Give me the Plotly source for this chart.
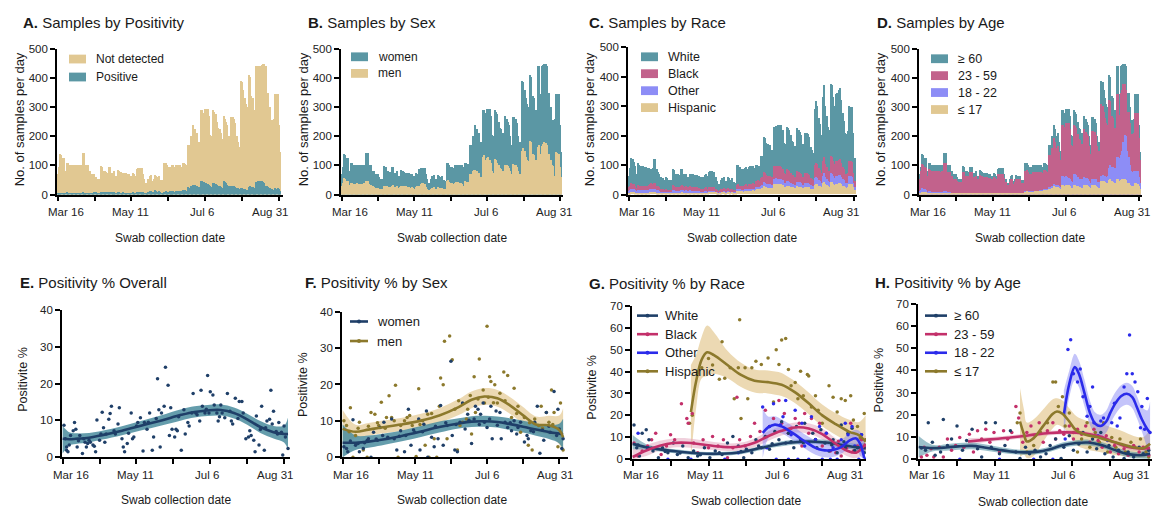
import plotly.graph_objects as go

# ---------------- data ----------------
TICK_DAYS = [0, 28, 56, 84, 112, 140, 168]          # Mar 16 + n*28 days
TICK_LABELS = ["Mar 16", "May 11", "Jul 6", "Aug 31"]

# daily samples, Mar 16 .. Sep 3 (day 0 = Mar 16)
total_samples = [
    70, 95, 140, 135, 125, 125, 80, 110, 108, 102,
    100, 100, 100, 100, 100, 100, 100, 100, 100, 143,
    143, 100, 100, 100, 80, 80, 70, 70, 70, 60,
    55, 55, 55, 97, 95, 80, 80, 78, 75, 95,
    95, 75, 75, 80, 65, 65, 85, 80, 78, 75,
    75, 75, 75, 70, 72, 65, 65, 75, 72, 65,
    88, 90, 90, 90, 90, 70, 55, 40, 40, 55,
    65, 68, 45, 55, 68, 65, 60, 65, 50, 50,
    45, 108, 110, 100, 95, 95, 90, 100, 100, 95,
    100, 100, 100, 100, 95, 110, 108, 105, 100, 170,
    170, 200, 200, 240, 225, 200, 210, 180, 150, 290,
    290, 280, 295, 295, 295, 270, 205, 200, 290, 285,
    275, 250, 230, 225, 210, 190, 270, 260, 250, 240,
    200, 170, 265, 265, 260, 245, 200, 180, 165, 390,
    385, 360, 330, 310, 300, 410, 405, 340, 330, 290,
    290, 440, 440, 345, 440, 445, 450, 450, 440, 350,
    350, 300, 255, 255, 260, 345, 345, 345, 240, 145]
positive_samples = [
    2, 3, 5, 4, 3, 5, 3, 8, 6, 5,
    6, 5, 4, 5, 6, 7, 5, 4, 6, 8,
    7, 5, 6, 5, 4, 6, 5, 7, 8, 9,
    6, 7, 6, 9, 10, 8, 9, 10, 8, 10,
    9, 8, 7, 9, 6, 7, 8, 9, 7, 6,
    8, 7, 6, 5, 7, 6, 5, 8, 7, 6,
    9, 10, 8, 9, 10, 8, 7, 5, 6, 9,
    12, 13, 9, 10, 14, 12, 10, 11, 8, 7,
    6, 10, 12, 10, 9, 11, 10, 12, 13, 10,
    12, 11, 13, 12, 11, 14, 15, 14, 12, 25,
    24, 28, 30, 33, 32, 28, 30, 26, 20, 48,
    45, 42, 38, 40, 36, 32, 28, 26, 38, 40,
    36, 34, 30, 28, 26, 24, 45, 42, 38, 34,
    28, 24, 30, 30, 29, 27, 24, 22, 20, 24,
    22, 20, 18, 17, 16, 25, 28, 26, 25, 24,
    22, 44, 45, 40, 46, 45, 44, 38, 30, 28,
    26, 24, 20, 18, 17, 22, 20, 22, 18, 12]
men_samples = [
    28, 38, 58, 52, 46, 45, 34, 40, 38, 36,
    35, 36, 38, 36, 35, 37, 36, 38, 40, 45,
    46, 36, 34, 32, 28, 27, 22, 22, 24, 20,
    18, 18, 20, 28, 30, 28, 26, 25, 24, 30,
    32, 26, 26, 28, 24, 25, 30, 28, 28, 26,
    28, 27, 26, 24, 25, 22, 20, 26, 28, 24,
    30, 36, 38, 40, 35, 26, 20, 14, 15, 20,
    24, 26, 17, 20, 26, 24, 22, 24, 20, 19,
    18, 48, 50, 42, 40, 38, 36, 40, 42, 40,
    42, 40, 38, 36, 30, 45, 44, 42, 40, 70,
    72, 82, 85, 84, 80, 72, 75, 60, 50, 130,
    135, 120, 125, 128, 118, 110, 80, 75, 122, 118,
    110, 100, 90, 88, 80, 70, 100, 102, 98, 92,
    80, 70, 105, 102, 100, 96, 80, 72, 68, 150,
    160, 150, 130, 120, 115, 185, 180, 140, 135, 120,
    118, 165, 170, 140, 168, 172, 180, 178, 170, 140,
    138, 120, 100, 98, 65, 145, 142, 140, 95, 60]
# race: cumulative counts (White+Black+Other+Hispanic, Black+Other+Hispanic, Other+Hispanic, Hispanic)
race_all = [
    62, 90, 125, 122, 110, 95, 70, 108, 100, 98,
    95, 95, 92, 92, 90, 90, 88, 88, 90, 122,
    120, 88, 75, 70, 60, 55, 55, 50, 58, 55,
    48, 50, 48, 85, 82, 70, 70, 68, 65, 85,
    85, 70, 68, 70, 60, 60, 70, 68, 68, 65,
    65, 65, 62, 62, 60, 58, 58, 65, 68, 62,
    75, 78, 78, 76, 76, 60, 45, 35, 35, 50,
    55, 58, 38, 45, 58, 55, 50, 55, 42, 42,
    38, 100, 100, 92, 88, 88, 85, 90, 92, 88,
    92, 95, 95, 95, 90, 100, 100, 98, 95, 130,
    130, 195, 190, 175, 170, 160, 168, 150, 130, 230,
    232, 228, 235, 235, 235, 220, 175, 170, 230, 225,
    220, 200, 180, 178, 165, 160, 225, 220, 212, 200,
    170, 150, 210, 210, 205, 195, 160, 150, 140, 290,
    318, 300, 260, 240, 200, 330, 370, 300, 265, 230,
    220, 375, 370, 330, 300, 340, 345, 355, 360, 320,
    275, 250, 210, 205, 215, 300, 298, 295, 210, 125]
race_black_other_hisp = [
    25, 30, 38, 36, 34, 30, 22, 32, 30, 28,
    28, 30, 30, 28, 30, 32, 35, 38, 35, 40,
    38, 30, 28, 25, 20, 18, 18, 16, 18, 15,
    14, 15, 16, 32, 30, 26, 25, 26, 24, 30,
    32, 28, 26, 28, 24, 24, 28, 26, 26, 24,
    24, 26, 22, 22, 20, 20, 18, 22, 24, 20,
    24, 26, 26, 24, 25, 20, 16, 12, 14, 18,
    20, 22, 14, 18, 22, 20, 18, 20, 16, 16,
    14, 32, 34, 30, 30, 28, 28, 32, 34, 30,
    34, 36, 36, 38, 36, 45, 46, 48, 46, 55,
    58, 75, 72, 65, 62, 60, 62, 58, 50, 95,
    98, 92, 95, 96, 94, 88, 72, 70, 85, 82,
    80, 72, 65, 65, 60, 58, 78, 76, 74, 70,
    60, 54, 72, 72, 70, 66, 56, 52, 50, 100,
    108, 102, 90, 82, 72, 115, 128, 105, 92, 80,
    78, 130, 128, 112, 102, 115, 112, 118, 120, 108,
    92, 85, 70, 68, 72, 115, 112, 110, 72, 45]
race_other_hisp = [
    12, 15, 20, 18, 17, 15, 11, 16, 15, 14,
    14, 15, 15, 14, 15, 16, 17, 18, 17, 20,
    19, 15, 14, 12, 10, 9, 9, 8, 9, 8,
    7, 8, 8, 16, 15, 13, 13, 13, 12, 15,
    16, 14, 13, 14, 12, 12, 14, 13, 13, 12,
    12, 13, 11, 11, 10, 10, 9, 11, 12, 10,
    12, 13, 13, 12, 13, 10, 8, 6, 7, 9,
    10, 11, 7, 9, 11, 10, 9, 10, 8, 8,
    7, 18, 19, 17, 16, 16, 15, 17, 18, 17,
    18, 19, 19, 20, 19, 24, 25, 26, 25, 30,
    32, 42, 40, 36, 34, 33, 34, 32, 28, 52,
    55, 50, 52, 53, 52, 48, 40, 38, 46, 45,
    44, 40, 36, 36, 33, 32, 43, 42, 41, 38,
    33, 30, 40, 40, 39, 36, 31, 29, 28, 55,
    60, 56, 50, 45, 40, 64, 72, 58, 52, 45,
    44, 72, 70, 62, 56, 64, 62, 66, 66, 60,
    52, 48, 40, 38, 40, 64, 62, 60, 40, 25]
race_hisp = [
    5, 6, 8, 8, 7, 6, 4, 6, 6, 5,
    5, 6, 6, 5, 6, 6, 7, 7, 7, 8,
    8, 6, 6, 5, 4, 4, 4, 3, 4, 3,
    3, 3, 3, 6, 6, 5, 5, 5, 5, 6,
    7, 6, 6, 6, 5, 5, 6, 6, 6, 5,
    5, 6, 5, 5, 5, 5, 4, 6, 6, 5,
    8, 8, 8, 8, 8, 7, 5, 4, 4, 6,
    7, 7, 5, 6, 8, 7, 6, 7, 6, 6,
    5, 12, 13, 12, 11, 11, 10, 12, 12, 11,
    12, 13, 13, 14, 13, 16, 17, 17, 17, 20,
    22, 28, 27, 24, 22, 22, 23, 21, 18, 34,
    36, 33, 34, 35, 34, 32, 26, 25, 30, 29,
    28, 26, 24, 24, 22, 21, 28, 27, 26, 25,
    22, 20, 26, 26, 26, 24, 20, 19, 18, 32,
    36, 34, 30, 28, 25, 38, 42, 35, 32, 28,
    27, 42, 41, 36, 33, 37, 36, 38, 38, 35,
    30, 28, 24, 22, 24, 36, 35, 34, 24, 14]
# age: cumulative counts (all ages = total_samples, <60, <23, <=17)
age_u60 = [
    55, 80, 105, 100, 95, 92, 62, 88, 85, 82,
    80, 82, 80, 80, 80, 80, 78, 80, 80, 110,
    110, 78, 78, 78, 62, 62, 55, 55, 55, 48,
    44, 44, 44, 78, 76, 64, 64, 62, 60, 76,
    76, 60, 60, 64, 52, 52, 68, 64, 62, 60,
    60, 60, 60, 56, 58, 52, 52, 60, 58, 52,
    70, 72, 72, 72, 72, 56, 44, 32, 32, 44,
    52, 54, 36, 44, 54, 52, 48, 52, 40, 40,
    36, 82, 84, 76, 72, 72, 68, 76, 76, 72,
    78, 78, 78, 78, 74, 86, 84, 82, 78, 135,
    135, 160, 160, 195, 180, 160, 168, 145, 120, 240,
    240, 232, 245, 245, 245, 224, 170, 166, 240, 236,
    228, 208, 190, 186, 174, 158, 224, 216, 208, 200,
    166, 140, 220, 220, 216, 204, 166, 150, 137, 310,
    305, 285, 262, 246, 238, 325, 320, 270, 262, 230,
    230, 345, 345, 272, 350, 360, 380, 380, 360, 285,
    285, 245, 208, 208, 210, 280, 280, 280, 195, 118]
age_u23 = [
    12, 16, 22, 20, 18, 16, 10, 12, 11, 10,
    9, 9, 9, 9, 9, 9, 9, 9, 9, 12,
    12, 8, 8, 8, 6, 6, 5, 5, 5, 4,
    4, 4, 4, 7, 7, 6, 6, 6, 5, 7,
    7, 5, 5, 6, 5, 5, 6, 6, 6, 5,
    5, 5, 5, 5, 5, 4, 4, 5, 5, 4,
    6, 6, 6, 6, 6, 5, 4, 3, 3, 4,
    5, 5, 4, 5, 6, 5, 5, 5, 4, 4,
    4, 12, 12, 11, 11, 11, 10, 12, 12, 11,
    13, 13, 14, 15, 14, 18, 18, 18, 18, 25,
    26, 30, 30, 36, 34, 32, 34, 30, 26, 62,
    64, 60, 62, 60, 58, 55, 45, 44, 70, 72,
    66, 60, 55, 55, 52, 48, 60, 58, 56, 54,
    46, 40, 55, 55, 55, 52, 44, 42, 40, 62,
    66, 64, 62, 60, 62, 92, 100, 96, 95, 90,
    92, 128, 130, 125, 135, 150, 180, 205, 200, 150,
    130, 100, 80, 78, 80, 82, 80, 80, 60, 40]
age_u18 = [
    5, 7, 10, 9, 8, 8, 5, 6, 6, 5,
    5, 5, 5, 5, 5, 5, 5, 5, 5, 7,
    7, 5, 5, 5, 4, 4, 3, 3, 3, 3,
    3, 3, 3, 4, 4, 4, 4, 4, 3, 4,
    4, 3, 3, 4, 3, 3, 4, 4, 4, 3,
    3, 3, 3, 3, 3, 3, 3, 3, 3, 3,
    4, 4, 4, 4, 4, 3, 3, 2, 2, 3,
    4, 4, 3, 4, 5, 4, 4, 4, 3, 3,
    3, 10, 11, 10, 10, 10, 9, 10, 11, 10,
    12, 12, 12, 13, 12, 15, 15, 15, 15, 18,
    20, 24, 24, 28, 26, 25, 26, 23, 20, 32,
    34, 30, 32, 33, 32, 30, 24, 23, 32, 32,
    31, 28, 26, 26, 24, 22, 34, 33, 32, 30,
    26, 22, 34, 34, 33, 31, 26, 24, 22, 48,
    48, 46, 42, 40, 38, 50, 52, 46, 44, 38,
    38, 55, 54, 46, 50, 52, 54, 52, 50, 40,
    38, 34, 28, 28, 30, 38, 38, 36, 28, 18]
DAYS = list(range(len(total_samples)))

# ---- positivity % (daily points: (day, %)) ----
E_points = [(1, 8.7), (2, 5.0), (3, 2.8), (3, 1.9), (4, 1.5), (5, 3.3), (6, 5.9), (8, 7.2), (9, 9.4), (10, 7.6),
            (11, 2.8), (12, 4.5), (13, 5.9), (15, 1.0), (16, 5.0), (17, 4.1), (18, 2.8), (19, 3.7), (20, 4.6), (21, 4.1),
            (23, 3.3), (24, 3.0), (25, 1.5), (26, 10.1), (28, 4.6), (29, 6.3), (30, 12.2), (31, 8.0), (32, 4.1), (33, 6.3),
            (35, 10.3), (36, 11.9), (37, 13.8), (39, 7.2), (40, 6.3), (42, 9.0), (43, 13.4), (45, 5.0), (46, 2.8), (47, 1.5),
            (49, 3.7), (50, 6.5), (52, 12.0), (53, 5.0), (54, 5.5), (56, 8.5), (57, 9.4), (59, 10.7), (61, 1.7), (62, 9.4),
            (64, 7.6), (65, 9.5), (66, 12.0), (68, 1.9), (69, 5.5), (71, 10.5), (72, 21.3), (73, 12.9), (74, 2.8), (75, 12.0),
            (77, 13.8), (78, 24.4), (80, 19.5), (81, 5.9), (82, 13.4), (83, 7.6), (85, 5.5), (86, 7.6), (87, 7.2), (88, 11.0),
            (90, 1.9), (92, 12.9), (93, 6.3), (95, 9.4), (96, 8.5), (98, 12.0), (99, 17.3), (101, 12.0), (102, 11.5), (104, 9.8),
            (105, 18.2), (106, 13.8), (108, 12.0), (109, 13.0), (110, 22.2), (111, 12.0), (112, 17.8), (114, 16.9), (115, 14.2), (117, 12.0),
            (118, 9.8), (119, 11.0), (120, 14.2), (121, 12.0), (123, 10.7), (125, 17.3), (127, 12.5), (128, 9.8), (129, 9.0), (131, 16.0),
            (133, 10.5), (134, 15.1), (136, 15.1), (137, 12.0), (139, 5.0), (141, 5.5), (142, 7.2), (143, 5.9), (145, 4.6), (146, 1.5),
            (147, 11.2), (149, 3.3), (150, 7.5), (151, 13.8), (153, 1.9), (154, 8.0), (155, 9.8), (157, 10.3), (158, 18.2), (159, 9.0),
            (160, 12.5), (162, 7.0), (163, 6.3), (164, 9.4), (166, 6.8), (167, 0.6), (168, 8.5), (169, 5.5), (171, 2.4)]
F_women_points = [(1, 2.9), (3, 2.4), (4, 1.5), (6, 4.5), (8, 10.3), (10, 3.3), (12, 3.8), (13, 1.5), (16, 2.4), (17, 4.0),
                  (19, 4.6), (20, 5.1), (22, 0), (24, 6.9), (26, 5.0), (27, 4.7), (29, 8.2), (31, 6.0), (32, 9.6), (35, 5.5),
                  (38, 10.5), (40, 5.1), (42, 2.0), (44, 5.8), (45, 7.3), (48, 1.5), (49, 6.0), (51, 13.2), (53, 3.3), (55, 7.5),
                  (56, 6.9), (59, 10.5), (60, 2.0), (62, 7.0), (63, 9.1), (65, 12.7), (66, 0), (69, 5.5), (71, 2.9), (72, 8.5),
                  (74, 5.1), (76, 14.2), (78, 3.3), (80, 9.5), (81, 8.7), (84, 26.4), (85, 6.0), (87, 2.0), (88, 9.0), (89, 1.5),
                  (91, 9.6), (93, 14.9), (95, 7.8), (97, 11.8), (98, 10.2), (100, 3.8), (102, 10.5), (103, 14.0), (105, 13.2), (106, 9.0),
                  (107, 11.8), (109, 14.9), (110, 9.6), (112, 8.2), (114, 10.5), (115, 14.0), (116, 5.1), (119, 12.7), (120, 8.8), (122, 12.3),
                  (123, 5.1), (126, 9.6), (128, 8.2), (130, 9.5), (131, 7.3), (133, 10.0), (135, 6.4), (136, 8.2), (138, 9.6), (141, 4.2),
                  (143, 6.0), (144, 5.1), (146, 7.3), (148, 7.0), (149, 9.6), (151, 14.0), (153, 1.1), (155, 7.5), (156, 4.7), (158, 12.3),
                  (160, 8.5), (161, 6.9), (164, 18.1), (166, 6.0), (167, 13.2), (168, 7.8), (170, 2.4), (171, 5.1)]
F_men_points = [(1, 10.0), (3, 8.7), (5, 7.0), (6, 13.6), (8, 0), (10, 6.0), (12, 8.0), (13, 9.6), (16, 2.0), (19, 0),
                (20, 8.5), (22, 12.3), (25, 11.8), (27, 9.5), (28, 8.7), (30, 15.1), (33, 8.0), (34, 10.9), (36, 16.9), (38, 10.9),
                (40, 10.0), (41, 19.8), (43, 0), (45, 8.7), (48, 10.0), (50, 10.9), (52, 11.5), (54, 8.7), (57, 0.2), (59, 18.8),
                (60, 9.0), (62, 10.0), (64, 3.3), (66, 11.8), (67, 0), (69, 12.0), (71, 5.1), (73, 0), (75, 14.0), (76, 21.8),
                (78, 19.9), (79, 31.9), (81, 5.1), (83, 33.3), (85, 26.8), (87, 13.2), (89, 2.0), (90, 15.5), (91, 8.7), (93, 9.6),
                (96, 10.5), (97, 13.2), (99, 17.0), (100, 6.4), (102, 22.1), (103, 12.3), (105, 16.0), (106, 27.0), (109, 18.5), (110, 14.9),
                (112, 36.0), (113, 16.5), (114, 22.1), (115, 20.8), (117, 15.0), (118, 19.9), (120, 14.9), (122, 17.6), (125, 23.4), (126, 15.5),
                (128, 22.5), (131, 10.9), (133, 19.0), (135, 12.0), (136, 14.0), (138, 6.9), (141, 10.9), (144, 3.3), (145, 9.5), (147, 2.0),
                (149, 10.5), (152, 8.7), (154, 14.0), (155, 8.0), (158, 12.3), (160, 9.6), (162, 18.5), (163, 9.0), (164, 12.3), (167, 2.9),
                (169, 14.9), (171, 2.0)]
G_white_points = [(1, 15.6), (3, 5.2), (4, 6.5), (5, 1.5), (7, 11.9), (10, 13.4), (12, 8.9), (14, 5.0), (15, 3.7), (19, 0.7),
                  (22, 5.2), (24, 3.5), (26, 3.0), (30, 7.4), (33, 2.2), (35, 2.8), (37, 6.0), (41, 0.7), (45, 3.7), (48, 1.5),
                  (50, 2.0), (53, 5.2), (57, 0.7), (61, 3.7), (64, 3.0), (66, 2.2), (70, 7.4), (74, 10.4), (78, 6.0), (80, 3.5),
                  (82, 0.7), (84, 4.5), (88, 3.0), (91, 8.9), (93, 6.0), (95, 5.2), (98, 10.4), (101, 4.5), (103, 7.0), (105, 12.7),
                  (108, 8.9), (110, 17.1), (113, 7.4), (115, 11.9), (117, 8.0), (119, 5.2), (121, 14.9), (124, 8.9), (126, 7.5), (127, 16.4),
                  (130, 7.4), (133, 11.9), (135, 9.0), (136, 5.2), (139, 13.4), (142, 7.4), (145, 3.7), (147, 6.5), (148, 8.9), (151, 3.0),
                  (154, 15.6), (156, 8.0), (157, 5.2), (159, 11.9), (162, 14.1), (164, 4.0), (166, 5.2), (169, 11.2), (171, 3.0)]
G_black_points = [(1, 7.4), (4, 1.5), (7, 3.7), (11, 6.0), (14, 8.9), (17, 11.9), (21, 2.2), (25, 6.0), (28, 11.2), (31, 8.9),
                  (36, 25.3), (40, 18.6), (41, 16.4), (44, 20.9), (45, 7.4), (48, 3.0), (52, 8.9), (56, 5.2), (59, 10.4), (63, 6.0),
                  (67, 8.9), (70, 0.7), (74, 5.2), (77, 28.3), (79, 8.9), (83, 6.0), (87, 10.4), (90, 16.4), (94, 12.7), (98, 22.3),
                  (101, 14.9), (104, 18.6), (108, 26.8), (110, 16.4), (112, 20.9), (115, 11.9), (117, 14.1), (120, 18.6), (123, 16.4), (125, 6.0),
                  (127, 20.9), (130, 11.9), (132, 18.6), (135, 8.9), (138, 16.4), (140, 6.0), (143, 11.9), (146, 3.7), (150, 3.0), (152, 8.2),
                  (154, 1.5), (158, 5.2), (161, 16.4), (163, 3.7), (166, 6.0), (169, 8.9), (172, 5.2)]
G_other_points = [(4, 11.9), (11, 5.2), (26, 0), (43, 0), (68, 0), (78, 3.0), (96, 23.8), (99, 5.2), (101, 14.9), (104, 25.3),
                  (106, 0), (109, 15.6), (111, 19.4), (113, 26.8), (115, 0), (117, 11.2), (120, 22.3), (122, 0), (125, 16.4), (127, 6.0),
                  (130, 0), (132, 19.4), (135, 8.9), (138, 14.9), (140, 0), (143, 11.9), (146, 0), (148, 5.2), (151, 0), (154, 8.9),
                  (157, 16.4), (159, 11.2), (162, 14.9), (164, 6.0), (167, 0), (169, 11.2), (172, 0)]
G_hisp_points = [(42, 16.4), (44, 20.1), (51, 41.7), (56, 46.0), (59, 43.0), (64, 36.5), (66, 53.6), (68, 37.0), (72, 41.7), (75, 27.6),
                 (78, 41.7), (79, 63.7), (80, 18.6), (83, 41.7), (85, 27.6), (88, 41.7), (91, 44.7), (95, 43.2), (100, 46.2), (104, 26.1),
                 (106, 50.0), (108, 43.2), (110, 54.4), (113, 55.1), (115, 41.0), (117, 33.5), (120, 35.0), (122, 27.6), (124, 40.2), (126, 29.0),
                 (129, 38.7), (130, 38.0), (132, 23.8), (135, 29.0), (137, 22.3), (140, 16.4), (145, 33.5), (148, 28.3), (151, 21.6), (154, 27.6),
                 (157, 26.8), (161, 29.0), (163, 17.9), (166, 14.9), (168, 9.7), (171, 20.9), (172, 8.9)]
H_60_points = [(2, 5.0), (5, 4.0), (7, 16.4), (10, 7.6), (12, 1.8), (16, 3.2), (18, 17.9), (21, 6.2), (24, 9.1), (28, 15.0),
               (32, 4.0), (35, 8.4), (39, 13.5), (43, 4.7), (46, 1.0), (49, 16.4), (53, 5.4), (56, 16.4), (59, 2.5), (63, 6.2),
               (67, 12.8), (71, 3.2), (74, 0.3), (78, 5.4), (81, 2.5), (85, 4.0), (89, 1.0), (93, 2.5), (96, 6.2), (100, 9.1),
               (104, 0.3), (106, 5.4), (110, 10.6), (113, 4.0), (117, 6.9), (120, 12.0), (123, 3.2), (127, 9.1), (130, 4.7), (133, 12.0),
               (136, 2.5), (139, 6.2), (142, 1.0), (146, 4.0), (150, 0.3), (153, 3.2), (157, 1.0), (161, 5.4), (164, 2.5), (168, 4.0)]
H_23_points = [(2, 1.0), (4, 5.4), (6, 1.8), (9, 4.7), (11, 1.0), (15, 5.4), (18, 1.0), (21, 9.1), (24, 4.0), (27, 6.2),
               (30, 9.8), (33, 5.4), (37, 11.3), (40, 3.2), (43, 12.8), (46, 9.1), (49, 13.5), (52, 7.6), (55, 12.0), (59, 3.2),
               (62, 12.8), (65, 9.1), (68, 12.0), (71, 23.8), (73, 18.6), (76, 7.6), (79, 12.0), (82, 15.0), (85, 10.6), (88, 16.4),
               (91, 7.6), (94, 12.8), (98, 16.4), (100, 9.1), (103, 12.8), (106, 11.3), (110, 15.0), (113, 9.1), (116, 13.5), (119, 11.3),
               (122, 15.0), (125, 7.6), (128, 13.5), (131, 8.4), (134, 5.4), (137, 10.6), (140, 3.2), (143, 6.2), (146, 2.5), (150, 4.7),
               (153, 1.8), (157, 6.2), (161, 3.2), (164, 5.4), (168, 1.8)]
H_18_points = [(30, 0), (59, 0), (84, 0), (98, 0), (107, 9.1), (109, 49.5), (111, 53.9), (113, 38.5), (116, 34.8), (118, 40.7),
               (120, 28.2), (123, 19.4), (125, 23.8), (127, 32.6), (128, 16.4), (131, 10.6), (133, 17.2), (135, 18.6), (138, 8.4), (141, 16.4),
               (143, 25.2), (145, 15.0), (147, 18.6), (150, 32.6), (152, 38.5), (154, 56.0), (156, 38.5), (158, 34.8), (160, 30.4), (162, 14.2),
               (163, 23.8), (165, 13.5), (167, 27.4), (169, 12.0)]
H_17_points = [(72, 16.4), (74, 20.8), (79, 3.2), (84, 6.2), (89, 12.0), (94, 16.4), (98, 34.8), (100, 34.8), (102, 23.8), (105, 28.2),
               (107, 15.0), (110, 20.8), (113, 12.0), (116, 3.2), (119, 9.1), (123, 16.4), (125, 5.4), (129, 12.0), (132, 7.6), (135, 16.4),
               (138, 3.2), (141, 9.8), (144, 5.4), (147, 9.1), (151, 3.2), (155, 7.6), (158, 5.4), (162, 9.1), (166, 3.2), (168, 1.0)]

# ---- smoothed trends with confidence bands (day, fit, lower, upper) ----
E_fit_days = [0, 5, 10, 20, 30, 45, 60, 75, 90, 100, 110, 120, 130, 140, 150, 160, 168, 171]
E_fit = [5.0, 4.9, 5.0, 5.3, 6.0, 7.2, 8.6, 10.0, 11.5, 12.3, 12.7, 12.8, 12.0, 10.3, 8.2, 6.8, 6.3, 6.3]
E_lo = [1.0, 3.2, 3.6, 4.0, 4.8, 6.0, 7.3, 8.6, 10.0, 10.8, 11.2, 11.3, 10.5, 8.8, 6.6, 5.1, 4.0, 2.0]
E_hi = [8.5, 6.8, 6.5, 6.6, 7.2, 8.4, 9.9, 11.4, 13.0, 13.8, 14.2, 14.3, 13.5, 11.8, 9.8, 8.5, 8.6, 10.8]

F_days = [0, 10, 20, 30, 45, 60, 75, 90, 100, 110, 120, 130, 140, 150, 160, 168, 171]
F_women_fit = [4.0, 4.0, 4.3, 4.8, 5.8, 7.0, 8.3, 9.3, 9.8, 9.9, 9.7, 9.1, 8.4, 7.6, 6.9, 6.5, 6.3]
F_women_lo = [0.0, 2.0, 2.6, 3.2, 4.3, 5.5, 6.8, 7.9, 8.3, 8.4, 8.2, 7.5, 6.8, 5.9, 5.0, 3.8, 2.0]
F_women_hi = [9.0, 6.0, 6.0, 6.4, 7.3, 8.5, 9.8, 10.7, 11.3, 11.4, 11.2, 10.7, 10.0, 9.3, 8.8, 9.2, 10.6]
F_men_fit = [7.8, 7.0, 7.6, 8.2, 9.0, 10.0, 11.5, 13.8, 15.8, 16.7, 16.2, 14.2, 11.5, 9.0, 8.8, 7.5, 5.5]
F_men_lo = [4.0, 5.3, 5.9, 6.5, 7.2, 8.1, 9.5, 11.6, 13.5, 14.4, 13.9, 11.9, 9.2, 6.8, 6.2, 3.5, 1.0]
F_men_hi = [13.0, 8.9, 9.4, 10.0, 10.8, 11.9, 13.5, 16.0, 18.1, 19.0, 18.5, 16.5, 13.8, 11.2, 11.4, 11.5, 13.5]

G_white_days = [0, 10, 20, 35, 50, 65, 80, 95, 105, 115, 125, 135, 145, 155, 165, 172]
G_white_fit = [7.0, 5.5, 4.5, 3.4, 2.6, 2.5, 3.2, 5.2, 6.5, 7.5, 8.0, 8.0, 7.5, 6.5, 5.5, 5.0]
G_white_lo = [4.5, 4.3, 3.5, 2.5, 1.8, 1.7, 2.3, 4.2, 5.5, 6.4, 6.9, 6.9, 6.3, 5.2, 4.0, 2.5]
G_white_hi = [11.0, 6.8, 5.5, 4.3, 3.4, 3.3, 4.1, 6.2, 7.5, 8.6, 9.1, 9.1, 8.7, 7.8, 7.0, 7.5]
G_black_days = [0, 10, 20, 30, 40, 50, 60, 70, 80, 90, 100, 110, 120, 130, 140, 150, 158, 165, 172]
G_black_fit = [1.0, 4.0, 6.2, 7.4, 7.5, 6.8, 6.0, 5.5, 5.8, 7.5, 10.5, 13.0, 14.5, 14.0, 11.5, 7.0, 4.0, 3.0, 7.0]
G_black_lo = [0.0, 1.5, 4.0, 5.3, 5.4, 4.8, 4.2, 3.8, 4.0, 5.5, 8.3, 10.8, 12.2, 11.6, 9.0, 4.5, 1.5, 0.5, 3.0]
G_black_hi = [4.5, 6.5, 8.4, 9.5, 9.6, 8.8, 7.8, 7.2, 7.6, 9.5, 12.7, 15.2, 16.8, 16.4, 14.0, 9.5, 6.5, 5.5, 11.0]
G_other_days = [96, 100, 105, 110, 115, 120, 125, 130, 135, 140, 145, 150, 155, 160, 165, 168, 171]
G_other_fit = [12.0, 14.5, 15.8, 15.0, 13.2, 11.2, 9.0, 7.0, 5.2, 4.2, 4.0, 4.5, 6.0, 8.5, 9.5, 7.0, 0.5]
G_other_lo = [0.5, 9.5, 12.0, 11.8, 10.0, 8.0, 5.8, 3.8, 2.0, 1.0, 0.8, 1.3, 2.8, 5.0, 5.5, 1.5, 0.0]
G_other_hi = [23.5, 19.5, 19.6, 18.2, 16.4, 14.4, 12.2, 10.2, 8.4, 7.4, 7.2, 7.7, 9.2, 12.0, 13.5, 12.5, 8.0]
G_hisp_days = [43, 47, 51, 55, 60, 70, 80, 90, 100, 110, 115, 120, 130, 140, 150, 160, 167, 172]
G_hisp_fit = [21.5, 36.0, 45.5, 48.8, 47.5, 43.0, 38.5, 35.8, 35.2, 34.0, 32.5, 30.5, 25.5, 20.0, 16.0, 12.5, 11.0, 8.0]
G_hisp_lo = [0.0, 24.0, 37.0, 38.0, 39.0, 37.0, 33.0, 30.5, 30.0, 28.8, 27.5, 25.5, 20.5, 15.0, 11.0, 7.5, 5.5, 3.0]
G_hisp_hi = [43.0, 48.0, 56.0, 61.0, 58.0, 49.5, 44.0, 41.0, 40.5, 39.4, 37.5, 35.5, 30.5, 25.0, 21.0, 18.0, 17.0, 20.0]

H_60_days = [0, 10, 20, 29, 39, 48, 58, 67, 77, 86, 96, 105, 115, 124, 134, 143, 153, 162, 169]
H_60_fit = [5.5, 5.0, 5.3, 5.8, 6.0, 5.3, 4.3, 3.5, 3.1, 3.3, 4.5, 6.3, 7.3, 7.5, 6.3, 4.2, 2.3, 1.8, 2.5]
H_60_lo = [0.8, 3.5, 3.8, 4.3, 4.5, 3.9, 3.0, 2.3, 2.0, 2.2, 3.4, 5.1, 6.1, 6.2, 5.0, 2.8, 0.9, 0.3, 0.2]
H_60_hi = [10.5, 6.5, 6.8, 7.3, 7.5, 6.7, 5.6, 4.7, 4.2, 4.4, 5.6, 7.5, 8.5, 8.8, 7.6, 5.6, 3.7, 3.3, 5.0]
H_23_days = [36, 48, 58, 67, 77, 86, 96, 105, 115, 124, 134, 143, 153, 162, 169]
H_23_fit = [8.0, 8.7, 9.2, 9.8, 10.5, 11.2, 11.8, 12.1, 12.0, 11.4, 10.0, 7.6, 5.5, 4.8, 5.0]
H_23_lo = [6.5, 7.6, 8.2, 8.8, 9.5, 10.2, 10.8, 11.1, 11.0, 10.4, 9.0, 6.5, 4.3, 3.5, 3.0]
H_23_hi = [9.5, 9.8, 10.2, 10.8, 11.5, 12.2, 12.8, 13.1, 13.0, 12.4, 11.0, 8.7, 6.7, 6.1, 7.0]
H_18_days = [106, 110, 114, 117, 121, 125, 129, 133, 137, 140, 144, 148, 152, 156, 159, 163, 167, 169]
H_18_fit = [20.0, 34.0, 41.5, 38.5, 30.0, 21.0, 16.0, 15.0, 17.0, 21.0, 25.5, 28.5, 29.5, 28.0, 24.0, 18.0, 13.5, 12.0]
H_18_lo = [10.0, 28.0, 35.5, 32.5, 24.0, 15.5, 11.0, 10.0, 12.0, 16.0, 20.5, 23.5, 24.5, 23.0, 19.0, 12.5, 5.0, 2.0]
H_18_hi = [31.0, 40.0, 47.5, 44.5, 36.0, 26.5, 21.0, 20.0, 22.0, 26.0, 30.5, 33.5, 34.5, 33.0, 29.0, 23.5, 22.0, 26.0]
H_17_days = [74, 77, 79, 84, 91, 98, 101, 105, 110, 115, 122, 130, 138, 148, 157, 164, 169]
H_17_fit = [17.0, 11.0, 8.0, 9.5, 15.0, 20.5, 21.5, 20.5, 17.0, 13.0, 11.0, 10.0, 8.5, 6.8, 5.3, 5.0, 7.0]
H_17_lo = [1.0, 2.0, 0.5, 1.5, 8.0, 14.0, 15.5, 14.5, 11.0, 6.5, 4.5, 3.5, 2.5, 1.5, 0.8, 0.5, 1.0]
H_17_hi = [32.0, 22.0, 16.5, 18.0, 22.5, 27.0, 27.5, 26.5, 23.0, 19.5, 17.5, 16.5, 15.0, 12.8, 10.5, 10.0, 13.5]

# ---------------- style ----------------
W, H = 1163, 516
FONT = "Arial, 'Liberation Sans', sans-serif"
TXT = "#1a1a1a"
TAN = "#e1c892"
TEAL = "#5b97a4"
MAUVE = "#c2628c"
PERI = "#8d8df6"
NAVY = "#1f3f68"
OLIVE = "#8c792c"
CRIMSON = "#c3306a"
BLUE = "#2b2bea"
BAND_TEAL = "rgba(74,140,158,0.85)"
BAND_TEAL_L = "rgba(74,140,158,0.55)"
BAND_TAN = "rgba(226,197,138,0.65)"
BAND_PINK = "rgba(222,150,178,0.45)"
BAND_LAV = "rgba(125,125,245,0.45)"
LABEL_OFFSETS_PX = [9, 73, 145, 213]

fig = go.Figure()
lay = dict(width=W, height=H, margin=dict(l=0, r=0, t=0, b=0), paper_bgcolor="white",
           plot_bgcolor="white", barmode="overlay", bargap=0, showlegend=False,
           font=dict(family=FONT, color=TXT), hovermode=False)
ann = []
shapes = []


def names(i):
    s = "" if i == 1 else str(i)
    return "x" + s, "y" + s, "xaxis" + s, "yaxis" + s


def panel(i, left, right, top, bottom, xmax, ymax, ydtick, letter, title, ytitle, ytx, yty, ytsize,
          row_label_y, xtitle_x, xtitle_y, title_x, title_y):
    xr, yr, xk, yk = names(i)
    common = dict(showgrid=False, zeroline=False, showline=True, linecolor="black", linewidth=1.6,
                  ticks="outside", ticklen=5, tickwidth=1.6, tickcolor="black", fixedrange=True)
    lay[xk] = dict(domain=[left / W, right / W], range=[-0.5, xmax], anchor=yr,
                   tickvals=TICK_DAYS, showticklabels=False, **common)
    lay[yk] = dict(domain=[1 - bottom / H, 1 - top / H], range=[0, ymax], anchor=xr,
                   tick0=0, dtick=ydtick, tickfont=dict(size=11.5, family=FONT, color="#222"), **common)
    for lab, off in zip(TICK_LABELS, LABEL_OFFSETS_PX):
        ann.append(dict(x=(left + off) / W, y=1 - row_label_y / H, xref="paper", yref="paper", text=lab,
                        showarrow=False, xanchor="center", yanchor="middle",
                        font=dict(size=11.5, family=FONT, color="#222")))
    ann.append(dict(x=xtitle_x / W, y=1 - xtitle_y / H, xref="paper", yref="paper",
                    text="Swab collection date", showarrow=False, xanchor="center", yanchor="middle",
                    font=dict(size=12, family=FONT, color=TXT)))
    ann.append(dict(x=ytx / W, y=1 - yty / H, xref="paper", yref="paper", text=ytitle, textangle=-90,
                    showarrow=False, xanchor="center", yanchor="middle",
                    font=dict(size=ytsize, family=FONT, color=TXT)))
    ann.append(dict(x=title_x / W, y=1 - title_y / H, xref="paper", yref="paper",
                    text="<b>%s.</b> %s" % (letter, title), showarrow=False, xanchor="left",
                    yanchor="middle", font=dict(size=15, family=FONT, color=TXT)))
    return xr, yr


def swatch_legend(entries, sx, tx, ys, size):
    # key boxes for the bar panels
    for (label, color), cy in zip(entries, ys):
        shapes.append(dict(type="rect", xref="paper", yref="paper", x0=sx / W, x1=(sx + 17) / W,
                           y0=1 - (cy + 4.5) / H, y1=1 - (cy - 4.5) / H, line=dict(width=0),
                           fillcolor=color, layer="above"))
        ann.append(dict(x=tx / W, y=1 - cy / H, xref="paper", yref="paper", text=label, showarrow=False,
                        xanchor="left", yanchor="middle", font=dict(size=size, family=FONT, color=TXT)))


def line_legend(entries, x0, x1, tx, ys, size):
    # key lines (with a centre dot) for the trend panels
    for (label, color), cy in zip(entries, ys):
        yy = 1 - cy / H
        shapes.append(dict(type="line", xref="paper", yref="paper", x0=x0 / W, x1=x1 / W, y0=yy, y1=yy,
                           line=dict(color=color, width=2.6), layer="above"))
        xc = (x0 + x1) / 2
        shapes.append(dict(type="circle", xref="paper", yref="paper", x0=(xc - 2) / W, x1=(xc + 2) / W,
                           y0=1 - (cy + 2) / H, y1=1 - (cy - 2) / H, line=dict(width=0),
                           fillcolor=color, layer="above"))
        ann.append(dict(x=tx / W, y=yy, xref="paper", yref="paper", text=label, showarrow=False,
                        xanchor="left", yanchor="middle", font=dict(size=size, family=FONT, color=TXT)))


def bar(xr, yr, y, color, name):
    fig.add_trace(go.Bar(x=DAYS, y=y, width=1.0, name=name, marker=dict(color=color, line=dict(width=0)),
                         xaxis=xr, yaxis=yr))


def band(xr, yr, d, lo, hi, color):
    fig.add_trace(go.Scatter(x=d, y=lo, mode="lines", line=dict(width=0, shape="spline", smoothing=1.0),
                             xaxis=xr, yaxis=yr))
    fig.add_trace(go.Scatter(x=d, y=hi, mode="lines", line=dict(width=0, shape="spline", smoothing=1.0),
                             fill="tonexty", fillcolor=color, xaxis=xr, yaxis=yr))


def dots(xr, yr, pts, color):
    fig.add_trace(go.Scatter(x=[p[0] for p in pts], y=[p[1] for p in pts], mode="markers",
                             marker=dict(size=3.5, color=color), xaxis=xr, yaxis=yr))


def fitline(xr, yr, d, f, color, name):
    fig.add_trace(go.Scatter(x=d, y=f, mode="lines", name=name,
                             line=dict(width=2.6, color=color, shape="spline", smoothing=1.0),
                             xaxis=xr, yaxis=yr))


ROW1_LAB, ROW2_LAB = 210.5, 480.5
YT1 = "No. of samples per day"
YT2 = "Positivite %"

# ---- A ----
xr, yr = panel(1, 57, 283, 44, 193, 171.0, 500, 100, "A", "Samples by Positivity", YT1, 19, 116, 13,
               ROW1_LAB, 170, 238, 20.5, 16.5)
bar(xr, yr, total_samples, TAN, "Not detected")
bar(xr, yr, positive_samples, TEAL, "Positive")
swatch_legend([("Not detected", TAN), ("Positive", TEAL)], 69, 94, [54.3, 72.7], 12)

# ---- B ----
xr, yr = panel(2, 341, 563, 44, 193, 170.3, 500, 100, "B", "Samples by Sex", YT1, 303, 116, 13,
               ROW1_LAB, 452, 238, 306, 16.5)
bar(xr, yr, total_samples, TEAL, "women")
bar(xr, yr, men_samples, TAN, "men")
swatch_legend([("women", TEAL), ("men", TAN)], 351, 376, [52, 69], 12)

# ---- C ----
xr, yr = panel(3, 628, 857, 42, 193, 170.5, 500, 100, "C", "Samples by Race", YT1, 589, 116, 13,
               ROW1_LAB, 742, 238, 587, 17)
bar(xr, yr, race_all, TEAL, "White")
bar(xr, yr, race_black_other_hisp, MAUVE, "Black")
bar(xr, yr, race_other_hisp, PERI, "Other")
bar(xr, yr, race_hisp, TAN, "Hispanic")
swatch_legend([("White", TEAL), ("Black", MAUVE), ("Other", PERI), ("Hispanic", TAN)],
              641, 666, [52, 69.3, 86.7, 104], 12.5)

# ---- D ----
xr, yr = panel(4, 919, 1142, 44, 193, 170.1, 500, 100, "D", "Samples by Age", YT1, 880, 116, 13,
               ROW1_LAB, 1030, 238, 875, 16.5)
bar(xr, yr, total_samples, TEAL, "\u2265 60")
bar(xr, yr, age_u60, MAUVE, "23 - 59")
bar(xr, yr, age_u23, PERI, "18 - 22")
bar(xr, yr, age_u18, TAN, "\u2264 17")
swatch_legend([("\u2265 60", TEAL), ("23 - 59", MAUVE), ("18 - 22", PERI), ("\u2264 17", TAN)],
              931, 956, [54, 71.3, 88.6, 106], 12.5)

# ---- E ----
xr, yr = panel(5, 62, 290, 311, 462, 172.5, 40, 10, "E", "Positivity % Overall", YT2, 22.7, 382, 12.5,
               ROW2_LAB, 176, 506, 18, 283)
band(xr, yr, E_fit_days, E_lo, E_hi, BAND_TEAL)
dots(xr, yr, E_points, NAVY)
fitline(xr, yr, E_fit_days, E_fit, NAVY, "overall")

# ---- F ----
xr, yr = panel(6, 342, 568, 313, 462, 174.8, 40, 10, "F", "Positivity % by Sex", YT2, 303, 388, 12.5,
               ROW2_LAB, 452, 506, 303, 283)
band(xr, yr, F_days, F_men_lo, F_men_hi, BAND_TAN)
band(xr, yr, F_days, F_women_lo, F_women_hi, BAND_TEAL)
dots(xr, yr, F_men_points, OLIVE)
dots(xr, yr, F_women_points, NAVY)
fitline(xr, yr, F_days, F_women_fit, NAVY, "women")
fitline(xr, yr, F_days, F_men_fit, OLIVE, "men")
line_legend([("women", NAVY), ("men", OLIVE)], 350, 368, 375, [323, 343], 13)

# ---- G ----
xr, yr = panel(7, 632, 866, 307, 464, 172.3, 70, 10, "G", "Positivity % by Race", YT2, 591.7, 390, 12.5,
               ROW2_LAB, 746, 507, 587, 284)
band(xr, yr, G_hisp_days, G_hisp_lo, G_hisp_hi, BAND_TAN)
band(xr, yr, G_black_days, G_black_lo, G_black_hi, BAND_PINK)
band(xr, yr, G_white_days, G_white_lo, G_white_hi, BAND_TEAL_L)
band(xr, yr, G_other_days, G_other_lo, G_other_hi, BAND_LAV)
dots(xr, yr, G_hisp_points, OLIVE)
dots(xr, yr, G_black_points, CRIMSON)
dots(xr, yr, G_white_points, NAVY)
dots(xr, yr, G_other_points, BLUE)
fitline(xr, yr, G_white_days, G_white_fit, NAVY, "White")
fitline(xr, yr, G_black_days, G_black_fit, CRIMSON, "Black")
fitline(xr, yr, G_other_days, G_other_fit, BLUE, "Other")
fitline(xr, yr, G_hisp_days, G_hisp_fit, OLIVE, "Hispanic")
line_legend([("White", NAVY), ("Black", CRIMSON), ("Other", BLUE), ("Hispanic", OLIVE)],
            637, 658, 663, [317, 336, 355, 374], 13)

# ---- H ----
xr, yr = panel(8, 918, 1152, 305, 464, 170.4, 70, 10, "H", "Positivity % by Age", YT2, 879.3, 383, 12.5,
               ROW2_LAB, 1033, 508, 873, 283)
band(xr, yr, H_17_days, H_17_lo, H_17_hi, BAND_TAN)
band(xr, yr, H_23_days, H_23_lo, H_23_hi, BAND_PINK)
band(xr, yr, H_60_days, H_60_lo, H_60_hi, BAND_TEAL_L)
band(xr, yr, H_18_days, H_18_lo, H_18_hi, BAND_LAV)
dots(xr, yr, H_17_points, OLIVE)
dots(xr, yr, H_23_points, CRIMSON)
dots(xr, yr, H_60_points, NAVY)
dots(xr, yr, H_18_points, BLUE)
fitline(xr, yr, H_60_days, H_60_fit, NAVY, "\u2265 60")
fitline(xr, yr, H_23_days, H_23_fit, CRIMSON, "23 - 59")
fitline(xr, yr, H_18_days, H_18_fit, BLUE, "18 - 22")
fitline(xr, yr, H_17_days, H_17_fit, OLIVE, "\u2264 17")
line_legend([("\u2265 60", NAVY), ("23 - 59", CRIMSON), ("18 - 22", BLUE), ("\u2264 17", OLIVE)],
            925, 947, 952, [317, 336, 355, 374], 13)

lay["annotations"] = ann
lay["shapes"] = shapes
fig.update_layout(**lay)
fig.write_html("out.html", config={"displayModeBar": False})
